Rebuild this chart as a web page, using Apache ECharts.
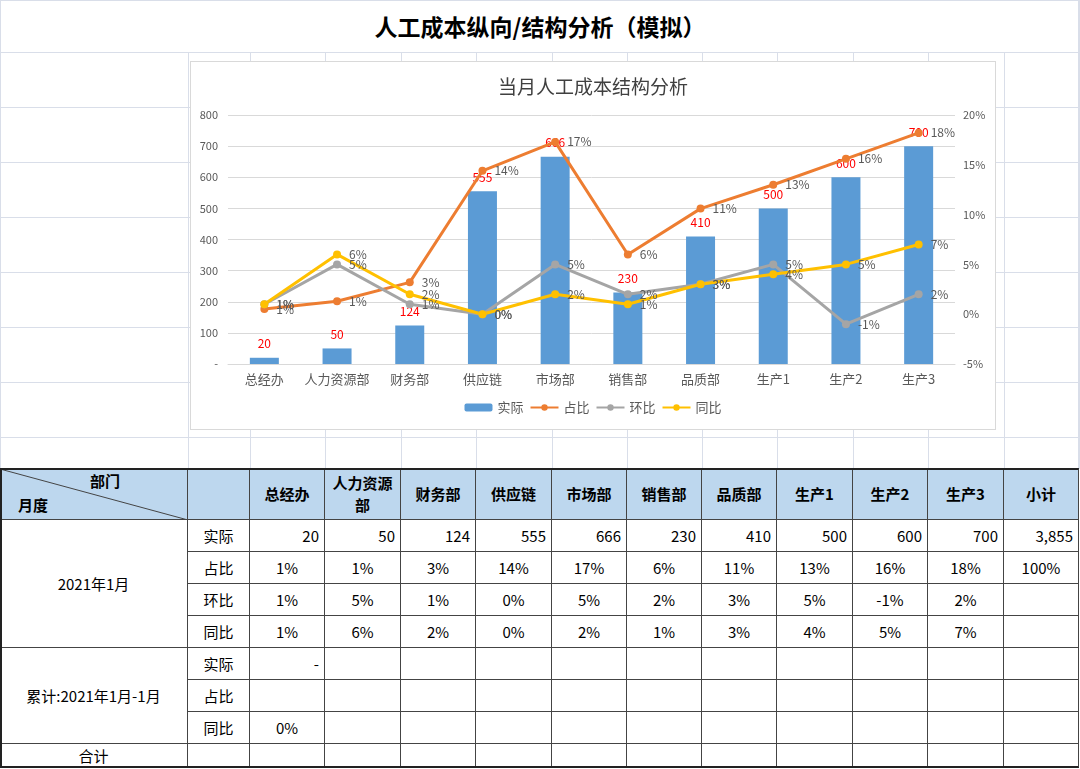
<!DOCTYPE html>
<html>
<head>
<meta charset="utf-8">
<script src="https://cdn.jsdelivr.net/npm/echarts@6/dist/echarts.min.js"></script>
<style>
  html, body { margin:0; padding:0; background:#fff; width:1080px; height:769px; overflow:hidden;
    font-family:"Noto Sans CJK SC","Noto Sans",sans-serif; }
  .gl { position:absolute; background:#D9DEE9; }
  .cell { position:absolute; box-sizing:border-box; border-right:1px solid #444; border-bottom:1px solid #444;
    display:flex; align-items:center; font-size:15px; color:#000; white-space:nowrap; background:#fff; }
  .hdr { background:#BDD7EE; font-weight:bold; justify-content:center; text-align:center; line-height:22px; }
  #title { position:absolute; left:0; top:11px; width:1080px; text-align:center; font-size:23px; line-height:30px; font-weight:bold; color:#000; }
  #chart { position:absolute; left:190px; top:61px; width:806px; height:369px; box-sizing:border-box;
    border:1px solid #D9D9D9; background:#fff; }
</style>
</head>
<body>
<div id="bg"></div>
<div id="title">人工成本纵向/结构分析（模拟）</div>
<div id="chart"></div>
<div id="table"></div>
<script>
// ---- data ----
const depts = ['总经办','人力资源部','财务部','供应链','市场部','销售部','品质部','生产1','生产2','生产3'];
const actual = [20, 50, 124, 555, 666, 230, 410, 500, 600, 700];
const share = [0.52, 1.3, 3.2, 14.4, 17.3, 6.0, 10.6, 13.0, 15.6, 18.2];   // 占比 (%)
const mom = [1, 5, 1, 0, 5, 2, 3, 5, -1, 2];                              // 环比 (%)
const yoy = [1, 6, 2, 0, 2, 1, 3, 4, 5, 7];                               // 同比 (%)
const subtotalActual = '3,855';
const subtotalShare = '100%';
const leftTicks = {min:0, max:800, interval:100};
const rightTicks = {min:-5, max:20, interval:5};

// ---- spreadsheet background grid ----
const bg = document.getElementById('bg');
function line(x, y, w, h) { const d = document.createElement('div'); d.className='gl';
  d.style.left=x+'px'; d.style.top=y+'px'; d.style.width=w+'px'; d.style.height=h+'px'; bg.appendChild(d); }
const colX = [0,188,250,325,401,476,552,627,702,777,853,928,1004,1079];
const gridRows = [52,107,162,217,272,327,382,437];
line(0,0,1080,1); line(0,0,1,469); line(1078,0,2,469);
gridRows.forEach(y => line(0,y,1080,1));
colX.slice(1,-1).forEach(x => line(x,52,1,417));

// ---- table ----
const rowY = [469,520,552,584,616,648,680,712,744,768];
const tbl = document.getElementById('table');
function cell(c0,c1,r0,r1,text,cls,align){
  const d=document.createElement('div'); d.className='cell'+(cls?' '+cls:'');
  d.style.left=colX[c0]+'px'; d.style.top=rowY[r0]+'px';
  d.style.width=(colX[c1]-colX[c0])+'px'; d.style.height=(rowY[r1]-rowY[r0])+'px';
  if(!cls){ d.style.justifyContent = align==='right'?'flex-end':'center'; if(align==='right') d.style.paddingRight='5px'; }
  d.innerHTML=text; tbl.appendChild(d); return d;
}
const pct = v => Math.round(v)+'%';
// header
const h0 = cell(0,1,0,1,'','hdr');
h0.innerHTML = '<svg width="188" height="51" style="position:absolute;left:0;top:0"><line x1="0" y1="0" x2="188" y2="51" stroke="#444" stroke-width="1"/></svg>'+
  '<span style="position:absolute;left:90px;top:1px">部门</span><span style="position:absolute;left:18px;top:25px">月度</span>';
cell(1,2,0,1,'','hdr');
depts.forEach((n,i)=>{ cell(i+2,i+3,0,1, n==='人力资源部'?'人力资源<br>部':n,'hdr'); });
cell(12,13,0,1,'小计','hdr');
// month block
cell(0,1,1,5,'2021年1月');
['实际','占比','环比','同比'].forEach((t,r)=>cell(1,2,r+1,r+2,t));
depts.forEach((n,i)=>{
  cell(i+2,i+3,1,2,String(actual[i]),null,'right');
  cell(i+2,i+3,2,3,pct(share[i]));
  cell(i+2,i+3,3,4,pct(mom[i]));
  cell(i+2,i+3,4,5,pct(yoy[i]));
});
cell(12,13,1,2,subtotalActual,null,'right'); cell(12,13,2,3,subtotalShare); cell(12,13,3,4,''); cell(12,13,4,5,'');
// cumulative block
cell(0,1,5,8,'累计:2021年1月-1月');
['实际','占比','同比'].forEach((t,r)=>cell(1,2,r+5,r+6,t));
for(let c=2;c<13;c++){
  cell(c,c+1,5,6, c===2?'-':'', null, 'right');
  cell(c,c+1,6,7,'');
  cell(c,c+1,7,8, c===2?'0%':'');
  cell(c,c+1,8,9,'');
}
cell(0,1,8,9,'合计'); cell(1,2,8,9,'');
// outer border
const ob=document.createElement('div');
ob.style.cssText='position:absolute;left:0;top:468px;width:1079px;height:300px;box-sizing:border-box;border:2px solid #222;border-right:1px solid #444;pointer-events:none;';
tbl.appendChild(ob);

// ---- chart ----
const chart = echarts.init(document.getElementById('chart'));
const lineLabel = {show:true, position:'right', distance:8, color:'#595959', fontSize:12,
  formatter: p => Math.round(p.value)+'%'};
function lineSeries(name, data, color){
  return {name, type:'line', yAxisIndex:1, data, symbol:'circle', symbolSize:8,
    lineStyle:{width:3,color}, itemStyle:{color}, label:lineLabel};
}
chart.setOption({
  animation:false,
  title:{text:'当月人工成本结构分析', left:'center', top:10,
    textStyle:{fontSize:19, fontWeight:'normal', color:'#404040', fontFamily:'Noto Sans CJK SC'}},
  textStyle:{fontFamily:'Noto Sans CJK SC'},
  grid:{left:37, right:40, top:53, bottom:65, containLabel:false, outerBoundsMode:'none'},
  legend:{bottom:10, left:'center', itemWidth:28, itemHeight:8, itemGap:6,
    textStyle:{color:'#595959', fontSize:13}, data:['实际','占比','环比','同比']},
  xAxis:{type:'category', data:depts, axisTick:{show:false},
    axisLine:{lineStyle:{color:'#D9D9D9', width:1}},
    axisLabel:{color:'#595959', fontSize:13, margin:9, interval:0}},
  yAxis:[
    {type:'value', min:leftTicks.min, max:leftTicks.max, interval:leftTicks.interval,
      axisLine:{show:false}, axisTick:{show:false},
      splitLine:{lineStyle:{color:'#D9D9D9'}},
      axisLabel:{color:'#595959', fontSize:11, margin:10, formatter:v => v===0?'-':String(v)}},
    {type:'value', min:rightTicks.min, max:rightTicks.max, interval:rightTicks.interval,
      axisLine:{show:false}, axisTick:{show:false}, splitLine:{show:false},
      axisLabel:{color:'#595959', fontSize:11, margin:8, formatter:'{value}%'}}
  ],
  series:[
    {name:'实际', type:'bar', data:actual, barWidth:29, itemStyle:{color:'#5B9BD5'},
      label:{show:true, position:'top', distance:8, color:'#FF0000', fontSize:12}},
    lineSeries('占比', share, '#ED7D31'),
    lineSeries('环比', mom, '#A5A5A5'),
    lineSeries('同比', yoy, '#FFC000')
  ]
});
</script>
</body>
</html>
